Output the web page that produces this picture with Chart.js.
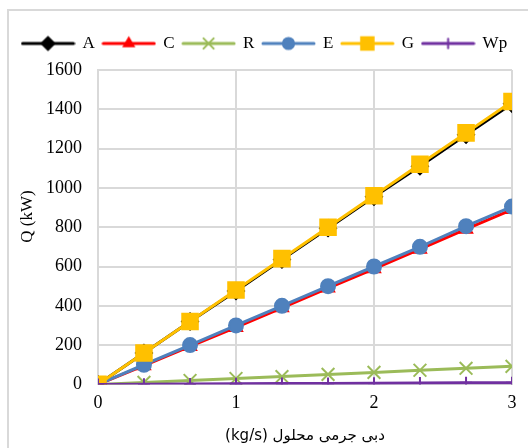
<!DOCTYPE html>
<html>
<head>
<meta charset="utf-8">
<script src="https://cdn.jsdelivr.net/npm/chart.js@4/dist/chart.umd.min.js"></script>
<style>
    html, body { margin: 0; padding: 0; background: #fff; }
    #wrap { width: 528px; height: 448px; position: relative; }
</style>
</head>
<body>
<div id="wrap"><canvas id="chart" width="528" height="448"></canvas></div>
<script>
    // mass flow of solution (kg/s)
    const flowRates = [0, 0.333, 0.667, 1, 1.333, 1.667, 2, 2.333, 2.667, 3];

    const seriesA = [0, 160, 320, 475, 635, 795, 955, 1110, 1270, 1428];
    const seriesC = [0, 95, 193, 290, 390, 490, 588, 688, 790, 890];
    const seriesR = [0, 10, 20, 30, 40, 51, 61, 72, 82, 92];
    const seriesE = [0, 100, 200, 300, 400, 500, 600, 700, 805, 905];
    const seriesG = [0, 160, 320, 480, 640, 800, 960, 1120, 1280, 1440];
    const seriesWp = [0, 1, 2, 3, 4, 5, 6, 7, 8, 9];

    const xTicks = [0, 1, 2, 3];
    const yTicks = [0, 200, 400, 600, 800, 1000, 1200, 1400, 1600];

    const serif = "'Liberation Serif', 'Times New Roman', serif";

    const series = [
        {label: 'A', data: seriesA, color: '#000000', style: 'rectRot', radius: 8, order: 4},
        {label: 'C', data: seriesC, color: '#ff0000', style: 'triangle', radius: 7, order: 5},
        {label: 'R', data: seriesR, color: '#9bbb59', style: 'crossRot', radius: 9, order: 3},
        {label: 'E', data: seriesE, color: '#4f81bd', style: 'circle', radius: 7, order: 2},
        {label: 'G', data: seriesG, color: '#ffc000', style: 'rect', radius: 11, order: 1},
        {label: 'Wp', data: seriesWp, color: '#7030a0', style: 'cross', radius: 6, order: 0}
    ];

    // legend sample: short line with the marker in the middle
    const legendIcon = function (s) {
        const c = document.createElement('canvas');
        c.width = 55;
        c.height = 18;
        const ctx = c.getContext('2d');
        ctx.strokeStyle = s.color;
        ctx.lineWidth = 3;
        ctx.lineCap = 'round';
        ctx.beginPath();
        ctx.moveTo(2, 9);
        ctx.lineTo(53, 9);
        ctx.stroke();
        ctx.fillStyle = s.color;
        ctx.lineWidth = 2;
        Chart.helpers.drawPoint(ctx, {pointStyle: s.style, radius: s.radius * 0.8, rotation: 0, borderWidth: 2}, 27.5, 9);
        return c;
    };

    const frame = {
        id: 'frame',
        beforeInit: function (chart) {
            // extra room between legend and plot
            const fit = chart.legend.fit;
            chart.legend.fit = function () {
                fit.bind(chart.legend)();
                this.height += 8;
            };
        },
        beforeDraw: function (chart) {
            const ctx = chart.ctx;
            ctx.save();
            ctx.fillStyle = '#fff';
            ctx.fillRect(0, 0, chart.width, chart.height);
            ctx.strokeStyle = '#d9d9d9';
            ctx.lineWidth = 2;
            ctx.strokeRect(8, 10, 540, 460);
            ctx.restore();
        }
    };

    new Chart(document.getElementById('chart'), {
        type: 'line',
        data: {
            datasets: series.map((s) => ({
                label: s.label,
                data: flowRates.map((x, i) => ({x: x, y: s.data[i]})),
                borderColor: s.color,
                backgroundColor: s.color,
                pointBackgroundColor: s.color,
                pointBorderColor: s.color,
                pointStyle: s.style,
                pointRadius: s.radius,
                pointBorderWidth: 2,
                borderWidth: 3,
                tension: 0,
                order: s.order
            }))
        },
        options: {
            responsive: false,
            animation: false,
            layout: {
                padding: {left: 14, right: 0, top: 27, bottom: 3}
            },
            plugins: {
                legend: {
                    position: 'top',
                    align: 'start',
                    labels: {
                        usePointStyle: true,
                        pointStyleWidth: 52,
                        font: {family: serif, size: 17},
                        color: '#000',
                        padding: 8,
                        generateLabels: function (chart) {
                            return series.map((s, i) => ({
                                text: s.label,
                                pointStyle: legendIcon(s),
                                fillStyle: s.color,
                                strokeStyle: s.color,
                                lineWidth: 0,
                                fontColor: '#000',
                                hidden: !chart.isDatasetVisible(i),
                                datasetIndex: i
                            }));
                        }
                    }
                },
                tooltip: {enabled: false}
            },
            scales: {
                x: {
                    type: 'linear',
                    min: 0,
                    max: 3,
                    afterBuildTicks: function (axis) {
                        axis.ticks = xTicks.map((v) => ({value: v}));
                    },
                    afterFit: function (axis) {
                        axis.paddingRight = 16;
                    },
                    grid: {color: '#d9d9d9', lineWidth: 2, drawTicks: false},
                    border: {color: '#d9d9d9', width: 2},
                    ticks: {
                        font: {family: serif, size: 18},
                        color: '#000',
                        padding: 8,
                        callback: (v) => String(v)
                    },
                    title: {
                        display: true,
                        text: '(kg/s) دبی جرمی محلول',
                        font: {family: "'DejaVu Sans', serif", size: 15},
                        color: '#000',
                        padding: {top: 5, bottom: 0}
                    }
                },
                y: {
                    min: 0,
                    max: 1600,
                    afterBuildTicks: function (axis) {
                        axis.ticks = yTicks.map((v) => ({value: v}));
                    },
                    afterFit: function (axis) {
                        axis.width = 84;
                    },
                    grid: {color: '#d9d9d9', lineWidth: 2, drawTicks: false},
                    border: {color: '#d9d9d9', width: 2},
                    ticks: {
                        font: {family: serif, size: 18},
                        color: '#000',
                        padding: 16,
                        callback: (v) => String(v)
                    },
                    title: {
                        display: true,
                        text: '     Q (kW)',
                        font: {family: serif, size: 17},
                        color: '#000',
                        padding: {top: 3, bottom: 6}
                    }
                }
            }
        },
        plugins: [frame]
    });
</script>
</body>
</html>
